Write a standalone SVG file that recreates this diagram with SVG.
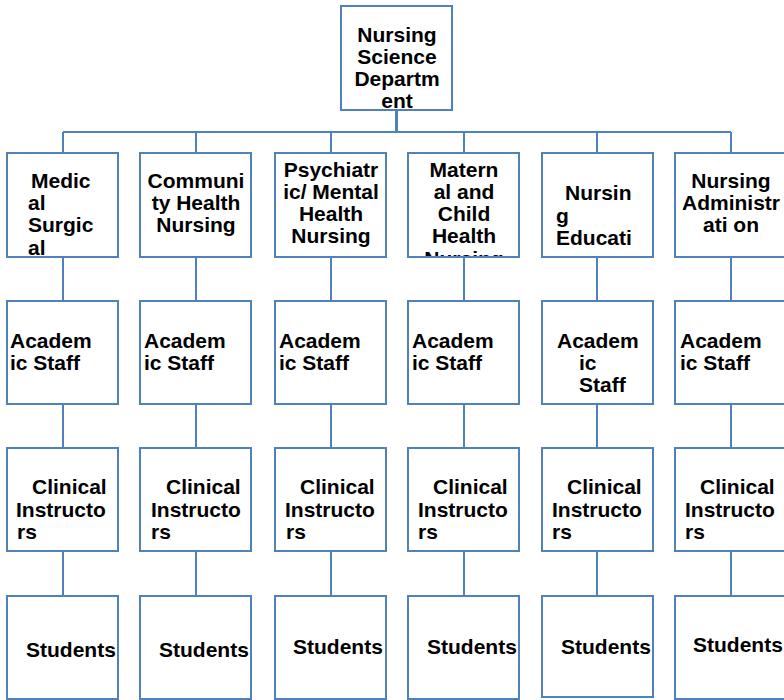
<svg xmlns="http://www.w3.org/2000/svg" width="784" height="700" viewBox="0 0 784 700">
<style>
.box{fill:#fff;stroke:#4F81BD;stroke-width:2}
.ln{stroke:#4F81BD;stroke-width:2;fill:none}
text{font-family:"Liberation Sans",Arial,sans-serif;font-weight:bold;font-size:21px;fill:#000}
.c{text-anchor:middle}
</style>
<defs>
<clipPath id="clipMat"><rect x="408" y="153" width="111" height="103"/></clipPath>
<clipPath id="clipMed"><rect x="7" y="153" width="111" height="103"/></clipPath>
</defs>
<rect width="784" height="700" fill="#fff"/>
<g id="connectors">
<line class="ln" x1="396.5" y1="110" x2="396.5" y2="132" style="stroke-width:3"/>
<line class="ln" x1="63" y1="132" x2="731" y2="132"/>
<line class="ln" x1="63" y1="132" x2="63" y2="153"/>
<line class="ln" x1="196" y1="132" x2="196" y2="153"/>
<line class="ln" x1="331" y1="132" x2="331" y2="153"/>
<line class="ln" x1="464" y1="132" x2="464" y2="153"/>
<line class="ln" x1="597" y1="132" x2="597" y2="153"/>
<line class="ln" x1="731" y1="132" x2="731" y2="153"/>
<line class="ln" x1="63" y1="257" x2="63" y2="301"/>
<line class="ln" x1="196" y1="257" x2="196" y2="301"/>
<line class="ln" x1="331" y1="257" x2="331" y2="301"/>
<line class="ln" x1="464" y1="257" x2="464" y2="301"/>
<line class="ln" x1="597" y1="257" x2="597" y2="301"/>
<line class="ln" x1="731" y1="257" x2="731" y2="301"/>
<line class="ln" x1="63" y1="404" x2="63" y2="448"/>
<line class="ln" x1="196" y1="404" x2="196" y2="448"/>
<line class="ln" x1="331" y1="404" x2="331" y2="448"/>
<line class="ln" x1="464" y1="404" x2="464" y2="448"/>
<line class="ln" x1="597" y1="404" x2="597" y2="448"/>
<line class="ln" x1="731" y1="404" x2="731" y2="448"/>
<line class="ln" x1="63" y1="551" x2="63" y2="596"/>
<line class="ln" x1="196" y1="551" x2="196" y2="596"/>
<line class="ln" x1="331" y1="551" x2="331" y2="596"/>
<line class="ln" x1="464" y1="551" x2="464" y2="596"/>
<line class="ln" x1="597" y1="551" x2="597" y2="596"/>
<line class="ln" x1="731" y1="551" x2="731" y2="596"/>
</g>
<g id="root">
<rect class="box" x="341" y="6" width="111" height="104"/>
<text class="c" x="397" y="42">Nursing</text>
<text class="c" x="397" y="64">Science</text>
<text class="c" x="397" y="86">Departm</text>
<text class="c" x="397" y="108">ent</text>
</g>
<g id="medical">
<rect class="box" x="7" y="153" width="111" height="104"/>
<g clip-path="url(#clipMed)">
<text x="31" y="188">Medic</text>
<text x="28" y="210">al</text>
<text x="28" y="232">Surgic</text>
<text x="28" y="254.5">al</text>
</g>
</g>
<g id="community">
<rect class="box" x="140" y="153" width="111" height="104"/>
<text class="c" x="196" y="188">Communi</text>
<text class="c" x="196" y="210">ty Health</text>
<text class="c" x="196" y="232">Nursing</text>
</g>
<g id="psychiatric">
<rect class="box" x="275" y="153" width="111" height="104"/>
<text class="c" x="331" y="177">Psychiatr</text>
<text class="c" x="331" y="199">ic/ Mental</text>
<text class="c" x="331" y="221">Health</text>
<text class="c" x="331" y="243">Nursing</text>
</g>
<g id="maternal">
<rect class="box" x="408" y="153" width="111" height="104"/>
<g clip-path="url(#clipMat)">
<text class="c" x="464" y="177">Matern</text>
<text class="c" x="464" y="199">al and</text>
<text class="c" x="464" y="221">Child</text>
<text class="c" x="464" y="243">Health</text>
<text class="c" x="464" y="266">Nursing</text>
</g>
</g>
<g id="education">
<rect class="box" x="542" y="153" width="111" height="104"/>
<text x="565" y="200">Nursin</text>
<text x="556" y="222.5">g</text>
<text x="556" y="245">Educati</text>
</g>
<g id="administration">
<rect class="box" x="675" y="153" width="111" height="104"/>
<text class="c" x="731" y="188">Nursing</text>
<text class="c" x="731" y="210">Administr</text>
<text class="c" x="731" y="232">ati on</text>
</g>
<g id="academic1"><rect class="box" x="7" y="301" width="111" height="103"/><text x="10" y="348">Academ</text><text x="10" y="370">ic Staff</text></g>
<g id="academic2"><rect class="box" x="140" y="301" width="111" height="103"/><text x="144" y="348">Academ</text><text x="144" y="370">ic Staff</text></g>
<g id="academic3"><rect class="box" x="275" y="301" width="111" height="103"/><text x="279" y="348">Academ</text><text x="279" y="370">ic Staff</text></g>
<g id="academic4"><rect class="box" x="408" y="301" width="111" height="103"/><text x="412" y="348">Academ</text><text x="412" y="370">ic Staff</text></g>
<g id="academic5"><rect class="box" x="542" y="301" width="111" height="103"/><text x="557" y="348">Academ</text><text x="579" y="370">ic</text><text x="579" y="392">Staff</text></g>
<g id="academic6"><rect class="box" x="675" y="301" width="111" height="103"/><text x="680" y="348">Academ</text><text x="680" y="370">ic Staff</text></g>
<g id="clinical1"><rect class="box" x="7" y="448" width="111" height="103"/><text x="32" y="494">Clinical</text><text x="16" y="517">Instructo</text><text x="17" y="539">rs</text></g>
<g id="clinical2"><rect class="box" x="140" y="448" width="111" height="103"/><text x="166" y="494">Clinical</text><text x="151" y="517">Instructo</text><text x="151" y="539">rs</text></g>
<g id="clinical3"><rect class="box" x="275" y="448" width="111" height="103"/><text x="300" y="494">Clinical</text><text x="285" y="517">Instructo</text><text x="286" y="539">rs</text></g>
<g id="clinical4"><rect class="box" x="408" y="448" width="111" height="103"/><text x="433" y="494">Clinical</text><text x="418" y="517">Instructo</text><text x="418" y="539">rs</text></g>
<g id="clinical5"><rect class="box" x="542" y="448" width="111" height="103"/><text x="567" y="494">Clinical</text><text x="552" y="517">Instructo</text><text x="552" y="539">rs</text></g>
<g id="clinical6"><rect class="box" x="675" y="448" width="111" height="103"/><text x="700" y="494">Clinical</text><text x="685" y="517">Instructo</text><text x="685" y="539">rs</text></g>
<g id="students1"><rect class="box" x="7" y="596" width="111" height="103"/><text x="26" y="657">Students</text></g>
<g id="students2"><rect class="box" x="140" y="596" width="111" height="103"/><text x="159" y="657">Students</text></g>
<g id="students3"><rect class="box" x="275" y="596" width="111" height="103"/><text x="293" y="654">Students</text></g>
<g id="students4"><rect class="box" x="408" y="596" width="111" height="103"/><text x="427" y="654">Students</text></g>
<g id="students5"><rect class="box" x="542" y="596" width="111" height="101"/><text x="561" y="654">Students</text></g>
<g id="students6"><rect class="box" x="675" y="596" width="111" height="103"/><text x="693" y="652">Students</text></g>
</svg>
